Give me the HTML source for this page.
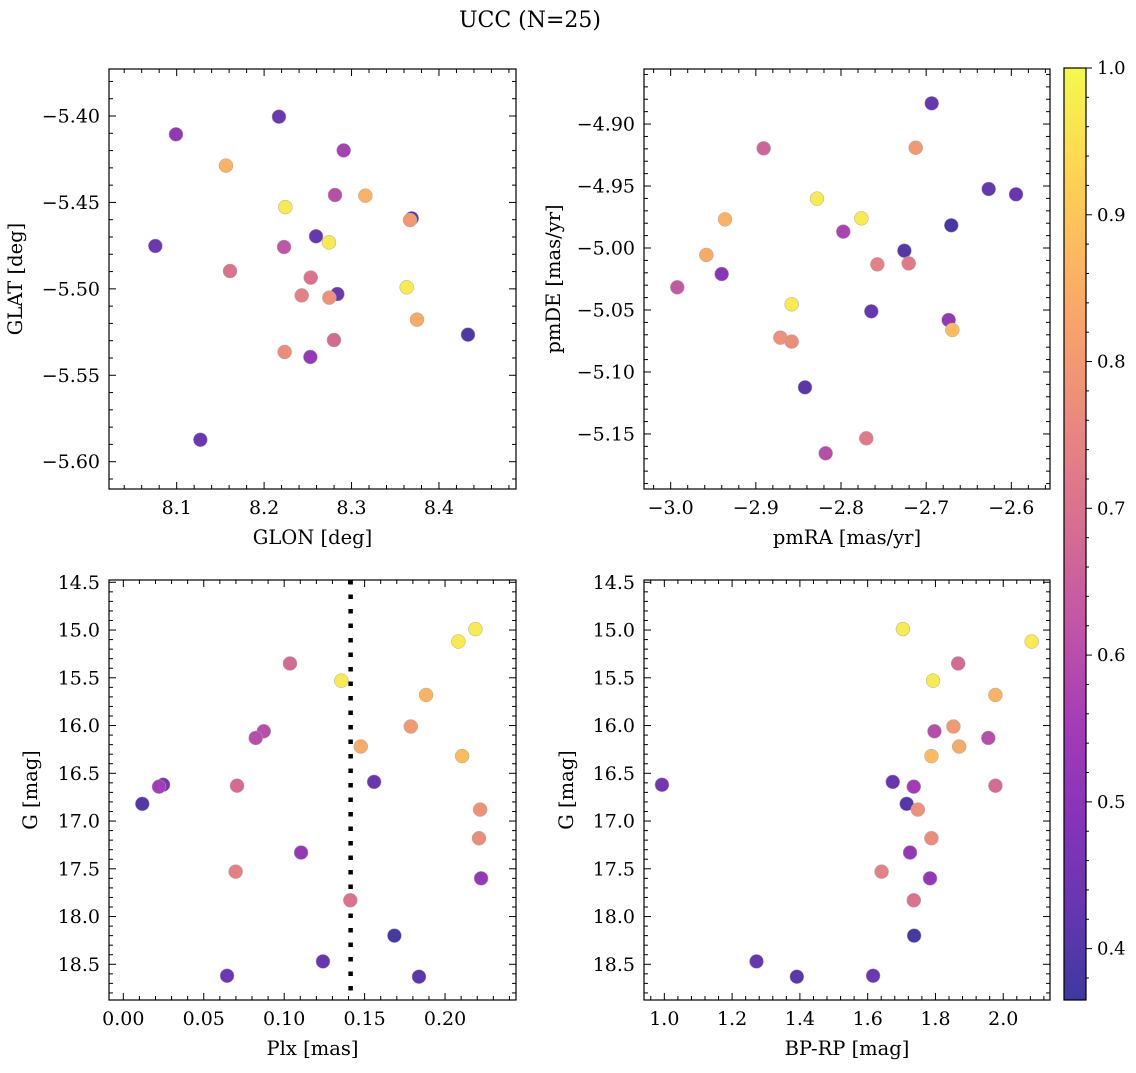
<!DOCTYPE html>
<html><head><meta charset="utf-8"><style>
body{margin:0;background:#fff;}
svg text{font-family:"DejaVu Serif","Liberation Serif",serif;fill:#000;}
</style></head><body>
<svg id="fig" width="1136" height="1068" xmlns="http://www.w3.org/2000/svg">
<text x="530" y="27" font-size="22" text-anchor="middle">UCC (N=25)</text>
</svg>
<script>
// Panel 1: GLON vs GLAT
const p1x=[8.0992,8.2170,8.1564,8.2910,8.2811,8.3158,8.2243,8.3688,8.3669,8.2594,8.2742,8.0756,8.2228,8.1610,8.2533,8.3631,8.2838,8.2430,8.2746,8.3749,8.4332,8.2799,8.2235,8.2529,8.1271];
const p1y=[-5.4106,-5.4004,-5.4287,-5.4199,-5.4457,-5.4461,-5.4527,-5.4592,-5.4602,-5.4696,-5.4731,-5.4752,-5.4758,-5.4897,-5.4935,-5.4991,-5.5030,-5.5038,-5.5051,-5.5178,-5.5265,-5.5296,-5.5365,-5.5394,-5.5873];
const p1c=[0.52,0.44,0.86,0.56,0.6,0.86,0.97,0.4,0.8,0.43,0.97,0.44,0.62,0.7,0.7,0.97,0.44,0.74,0.78,0.84,0.39,0.68,0.77,0.52,0.44];
// Panel 2: pmRA vs pmDE
const p2x=[-2.6935,-2.8908,-2.7123,-2.6266,-2.5945,-2.8282,-2.9362,-2.7761,-2.6705,-2.7973,-2.7256,-2.9581,-2.7573,-2.7205,-2.9401,-2.9922,-2.8579,-2.7644,-2.6736,-2.6693,-2.8712,-2.8579,-2.8423,-2.7703,-2.8180];
const p2y=[-4.8833,-4.9196,-4.9191,-4.9524,-4.9567,-4.9602,-4.9769,-4.9761,-4.9817,-4.9868,-5.0022,-5.0056,-5.0132,-5.0124,-5.0210,-5.0317,-5.0454,-5.0511,-5.0581,-5.0661,-5.0723,-5.0755,-5.1124,-5.1535,-5.1656];
const p2c=[0.43,0.66,0.8,0.43,0.43,0.97,0.86,0.97,0.38,0.57,0.4,0.84,0.74,0.72,0.5,0.63,0.97,0.43,0.52,0.88,0.78,0.77,0.41,0.72,0.6];
// Panel 3: Plx vs G
const p3x=[0.2189,0.2083,0.1036,0.1355,0.1882,0.1787,0.0873,0.0823,0.1476,0.2106,0.0247,0.1559,0.0222,0.0707,0.0118,0.2218,0.2211,0.1105,0.0698,0.2224,0.1411,0.1685,0.1241,0.1838,0.0645];
const p3y=[14.99,15.12,15.35,15.53,15.68,16.01,16.06,16.13,16.22,16.32,16.62,16.59,16.64,16.63,16.82,16.88,17.18,17.33,17.53,17.60,17.83,18.20,18.47,18.63,18.62];
const p3c=[0.97,0.97,0.68,0.97,0.86,0.8,0.6,0.6,0.84,0.88,0.45,0.43,0.55,0.68,0.4,0.78,0.77,0.52,0.74,0.52,0.7,0.38,0.43,0.41,0.44];
// Panel 4: BP-RP vs G
const p4x=[1.704,2.084,1.867,1.793,1.977,1.853,1.797,1.956,1.870,1.788,0.993,1.674,1.736,1.977,1.715,1.748,1.788,1.725,1.641,1.784,1.736,1.737,1.272,1.391,1.616];
const p4y=[14.99,15.12,15.35,15.53,15.68,16.01,16.06,16.13,16.22,16.32,16.62,16.59,16.64,16.63,16.82,16.88,17.18,17.33,17.53,17.60,17.83,18.20,18.47,18.63,18.62];
const p4c=[0.97,0.97,0.68,0.97,0.86,0.8,0.6,0.6,0.84,0.88,0.45,0.43,0.55,0.68,0.4,0.78,0.77,0.52,0.74,0.52,0.7,0.38,0.43,0.41,0.44];
const plxLine=0.1413;
const cbTicks=[0.4,0.5,0.6,0.7,0.8,0.9,1.0];
const vmin=0.365, vmax=1.0;

const NS="http://www.w3.org/2000/svg";
const svg=document.getElementById('fig');
function mk(tag,attrs,parent){const e=document.createElementNS(NS,tag);for(const k in attrs)e.setAttribute(k,attrs[k]);(parent||svg).appendChild(e);return e;}
const stops=["#0d0887","#41049d","#6a00a8","#8f0da4","#b12a90","#cc4778","#e16462","#f2844b","#fca636","#fcce25","#f0f921"];
function hx(h){return [parseInt(h.substr(1,2),16),parseInt(h.substr(3,2),16),parseInt(h.substr(5,2),16)];}
function plasma(t){t=Math.max(0,Math.min(1,t));const f=t*10,i=Math.min(9,Math.floor(f)),r=f-i;const a=hx(stops[i]),b=hx(stops[i+1]);
 const c=a.map((v,k)=>v+(b[k]-v)*r).map(v=>Math.round(v*0.8+255*0.2));return `rgb(${c[0]},${c[1]},${c[2]})`;}
function fmt(v,d){const s=Math.abs(v).toFixed(d);return (v<-1e-9?"\u2212":"")+s;}

function panel(o){
 const {x0,x1,y0,y1,xmin,xmax,ymin,ymax,inv}=o;
 const sx=v=>x0+(v-xmin)/(xmax-xmin)*(x1-x0);
 const sy=inv?(v=>y0+(v-ymin)/(ymax-ymin)*(y1-y0)):(v=>y1-(v-ymin)/(ymax-ymin)*(y1-y0));
 const g=mk('g',{});
 
 
 const eps=1e-9;
 for(let k=Math.ceil(xmin/o.xminor-eps);k*o.xminor<=xmax+eps;k++){const v=k*o.xminor;const X=sx(v);const maj=Math.abs(v/o.xmajor-Math.round(v/o.xmajor))<1e-4;const L=maj?7:4;
  mk('line',{x1:X,x2:X,y1:y1,y2:y1-L,stroke:'#000','stroke-width':1},g);mk('line',{x1:X,x2:X,y1:y0,y2:y0+L,stroke:'#000','stroke-width':1},g);
  if(maj){const t=mk('text',{x:X,y:y1+25,'font-size':19,'text-anchor':'middle'},g);t.textContent=fmt(v,o.xd);}}
 for(let k=Math.ceil(ymin/o.yminor-eps);k*o.yminor<=ymax+eps;k++){const v=k*o.yminor;const Y=sy(v);const maj=Math.abs(v/o.ymajor-Math.round(v/o.ymajor))<1e-4;const L=maj?7:4;
  mk('line',{x1:x0,x2:x0+L,y1:Y,y2:Y,stroke:'#000','stroke-width':1},g);mk('line',{x1:x1,x2:x1-L,y1:Y,y2:Y,stroke:'#000','stroke-width':1},g);
  if(maj){const t=mk('text',{x:x0-9,y:Y+6.5,'font-size':19,'text-anchor':'end'},g);t.textContent=fmt(v,o.yd);}}
 if(o.vline!==undefined){const l=mk('line',{x1:sx(o.vline),x2:sx(o.vline),y1:y0,y2:y1,stroke:'#000','stroke-width':4.5,'stroke-dasharray':'4.5,10'},g);}
 for(let i=0;i<o.xs.length;i++){const c=mk('circle',{cx:sx(o.xs[i]),cy:sy(o.ys[i]),r:7,fill:plasma((o.cs[i]-vmin)/(vmax-vmin)),stroke:'#aaa','stroke-width':0.5},g);
  
  }
 const fr=mk('rect',{x:x0,y:y0,width:x1-x0,height:y1-y0,fill:'none',stroke:'#000','stroke-width':1.2},g);
 
 const xl=mk('text',{x:(x0+x1)/2,y:y1+55,'font-size':19.5,'text-anchor':'middle'},g);xl.textContent=o.xlabel;
 
 const yl=mk('text',{x:0,y:0,'font-size':19.5,'text-anchor':'middle',transform:`translate(${o.ylx},${(y0+y1)/2}) rotate(-90)`},g);yl.textContent=o.ylabel;
 
}
panel({name:'glon-glat-panel',x0:109,x1:516,y0:69,y1:489,xmin:8.0226,xmax:8.4881,ymin:-5.6158,ymax:-5.3728,xmajor:0.1,xminor:0.02,ymajor:0.05,yminor:0.01,xd:1,yd:2,xs:p1x,ys:p1y,cs:p1c,xlabel:'GLON [deg]',ylabel:'GLAT [deg]',ylx:22});
panel({name:'pm-panel',x0:644,x1:1050,y0:69,y1:489,xmin:-3.0313,xmax:-2.5546,ymin:-5.1944,ymax:-4.8556,xmajor:0.1,xminor:0.02,ymajor:0.05,yminor:0.01,xd:1,yd:2,xs:p2x,ys:p2y,cs:p2c,xlabel:'pmRA [mas/yr]',ylabel:'pmDE [mas/yr]',ylx:560});
panel({name:'plx-g-panel',x0:109,x1:516,y0:580,y1:1000,xmin:-0.0089,xmax:0.2441,ymin:14.476,ymax:18.874,inv:true,xmajor:0.05,xminor:0.01,ymajor:0.5,yminor:0.1,xd:2,yd:1,xs:p3x,ys:p3y,cs:p3c,xlabel:'Plx [mas]',ylabel:'G [mag]',ylx:37,vline:plxLine});
panel({name:'cmd-panel',x0:644,x1:1050,y0:580,y1:1000,xmin:0.940,xmax:2.138,ymin:14.476,ymax:18.874,inv:true,xmajor:0.2,xminor:0.04,ymajor:0.5,yminor:0.1,xd:1,yd:1,xs:p4x,ys:p4y,cs:p4c,xlabel:'BP-RP [mag]',ylabel:'G [mag]',ylx:573});
// colorbar
(function(){const cx0=1064,cx1=1086,cy0=68,cy1=1000;const g=mk('g',{});
 
 
 const defs=mk('defs',{},g);const lg=mk('linearGradient',{id:'cbg',x1:0,y1:1,x2:0,y2:0},defs);
 for(let i=0;i<=20;i++){mk('stop',{offset:i/20,'stop-color':plasma(i/20)},lg);}
 mk('rect',{x:cx0,y:cy0,width:cx1-cx0,height:cy1-cy0,fill:'url(#cbg)',stroke:'#000','stroke-width':1.2},g);
 const sy=v=>cy1-(v-vmin)/(vmax-vmin)*(cy1-cy0);
 for(let k=19;k<=50;k++){const v=k*0.02;const Y=sy(v);const maj=(k%5===0);
  mk('line',{x1:cx1,x2:cx1+(maj?6:3),y1:Y,y2:Y,stroke:'#000','stroke-width':1},g);}
 cbTicks.forEach(v=>{const t=mk('text',{x:cx1+11,y:sy(v)+6,'font-size':18},g);t.textContent=v.toFixed(1);
  });
})();
</script>
</body></html>
